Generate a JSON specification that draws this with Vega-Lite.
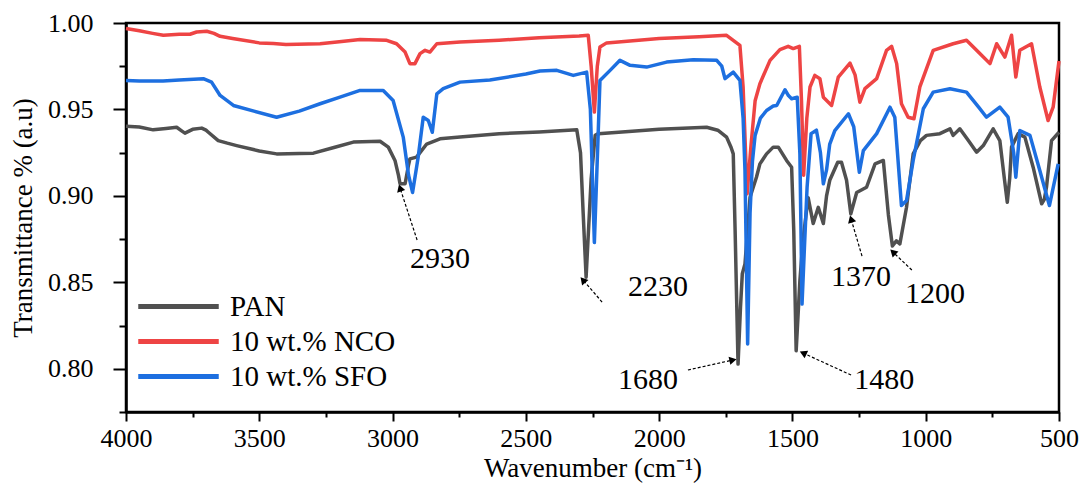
{
  "$schema": "https://vega.github.io/schema/vega-lite/v6.json",
  "autosize": {"type": "none"},
  "width": 933,
  "height": 389,
  "padding": {"left": 126, "top": 23, "right": 25, "bottom": 74},
  "background": "white",
  "config": {
    "font": "Liberation Serif, Times New Roman, serif",
    "view": {"stroke": "black", "strokeWidth": 2.5},
    "axis": {"domainColor": "black", "domainWidth": 2.5, "tickColor": "black", "tickWidth": 2, "labelColor": "black", "titleColor": "black", "labelFont": "Liberation Serif, Times New Roman, serif", "titleFont": "Liberation Serif, Times New Roman, serif", "titleFontWeight": "normal", "grid": false, "labelFontSize": 26, "titleFontSize": 27},
    "legend": {"labelFont": "Liberation Serif, Times New Roman, serif"},
    "text": {"font": "Liberation Serif, Times New Roman, serif"}
  },
  "datasets": {
    "spectra": [
      {"s":"PAN","w":4000,"t":0.9403},{"s":"PAN","w":3950,"t":0.9398},{"s":"PAN","w":3898,"t":0.9382},{"s":"PAN","w":3850,"t":0.939},{"s":"PAN","w":3810,"t":0.9397},{"s":"PAN","w":3790,"t":0.9375},{"s":"PAN","w":3779,"t":0.9363},{"s":"PAN","w":3750,"t":0.9385},{"s":"PAN","w":3716,"t":0.9392},{"s":"PAN","w":3700,"t":0.938},{"s":"PAN","w":3691,"t":0.9368},{"s":"PAN","w":3654,"t":0.932},{"s":"PAN","w":3620,"t":0.9305},{"s":"PAN","w":3585,"t":0.9291},{"s":"PAN","w":3500,"t":0.926},{"s":"PAN","w":3435,"t":0.9243},{"s":"PAN","w":3350,"t":0.9245},{"s":"PAN","w":3297,"t":0.9247},{"s":"PAN","w":3220,"t":0.928},{"s":"PAN","w":3147,"t":0.9311},{"s":"PAN","w":3047,"t":0.9316},{"s":"PAN","w":3016,"t":0.9282},{"s":"PAN","w":2991,"t":0.9205},{"s":"PAN","w":2978,"t":0.912},{"s":"PAN","w":2972,"t":0.907},{"s":"PAN","w":2953,"t":0.907},{"s":"PAN","w":2940,"t":0.918},{"s":"PAN","w":2935,"t":0.9214},{"s":"PAN","w":2910,"t":0.9224},{"s":"PAN","w":2872,"t":0.93},{"s":"PAN","w":2822,"t":0.933},{"s":"PAN","w":2747,"t":0.934},{"s":"PAN","w":2600,"t":0.936},{"s":"PAN","w":2450,"t":0.937},{"s":"PAN","w":2309,"t":0.9382},{"s":"PAN","w":2295,"t":0.925},{"s":"PAN","w":2285,"t":0.89},{"s":"PAN","w":2274,"t":0.853},{"s":"PAN","w":2265,"t":0.88},{"s":"PAN","w":2255,"t":0.91},{"s":"PAN","w":2240,"t":0.935},{"s":"PAN","w":2228,"t":0.936},{"s":"PAN","w":2000,"t":0.9385},{"s":"PAN","w":1822,"t":0.9397},{"s":"PAN","w":1780,"t":0.938},{"s":"PAN","w":1747,"t":0.934},{"s":"PAN","w":1730,"t":0.928},{"s":"PAN","w":1722,"t":0.9243},{"s":"PAN","w":1715,"t":0.88},{"s":"PAN","w":1704,"t":0.8027},{"s":"PAN","w":1695,"t":0.835},{"s":"PAN","w":1688,"t":0.855},{"s":"PAN","w":1678,"t":0.8606},{"s":"PAN","w":1659,"t":0.8992},{"s":"PAN","w":1635,"t":0.9108},{"s":"PAN","w":1622,"t":0.9185},{"s":"PAN","w":1597,"t":0.9243},{"s":"PAN","w":1572,"t":0.9282},{"s":"PAN","w":1553,"t":0.9282},{"s":"PAN","w":1522,"t":0.9205},{"s":"PAN","w":1503,"t":0.9166},{"s":"PAN","w":1495,"t":0.88},{"s":"PAN","w":1486,"t":0.8104},{"s":"PAN","w":1472,"t":0.851},{"s":"PAN","w":1460,"t":0.875},{"s":"PAN","w":1441,"t":0.899},{"s":"PAN","w":1422,"t":0.884},{"s":"PAN","w":1403,"t":0.8934},{"s":"PAN","w":1384,"t":0.884},{"s":"PAN","w":1372,"t":0.9},{"s":"PAN","w":1360,"t":0.909},{"s":"PAN","w":1330,"t":0.9195},{"s":"PAN","w":1316,"t":0.9195},{"s":"PAN","w":1297,"t":0.909},{"s":"PAN","w":1281,"t":0.8896},{"s":"PAN","w":1259,"t":0.902},{"s":"PAN","w":1222,"t":0.905},{"s":"PAN","w":1190,"t":0.9185},{"s":"PAN","w":1159,"t":0.9205},{"s":"PAN","w":1140,"t":0.889},{"s":"PAN","w":1125,"t":0.871},{"s":"PAN","w":1110,"t":0.874},{"s":"PAN","w":1097,"t":0.8722},{"s":"PAN","w":1072,"t":0.8934},{"s":"PAN","w":1047,"t":0.9243},{"s":"PAN","w":1020,"t":0.932},{"s":"PAN","w":997,"t":0.935},{"s":"PAN","w":947,"t":0.936},{"s":"PAN","w":909,"t":0.9388},{"s":"PAN","w":897,"t":0.935},{"s":"PAN","w":872,"t":0.9388},{"s":"PAN","w":840,"t":0.932},{"s":"PAN","w":809,"t":0.9253},{"s":"PAN","w":784,"t":0.9291},{"s":"PAN","w":747,"t":0.9388},{"s":"PAN","w":722,"t":0.932},{"s":"PAN","w":705,"t":0.91},{"s":"PAN","w":694,"t":0.8963},{"s":"PAN","w":685,"t":0.91},{"s":"PAN","w":678,"t":0.9282},{"s":"PAN","w":653,"t":0.936},{"s":"PAN","w":628,"t":0.934},{"s":"PAN","w":597,"t":0.9166},{"s":"PAN","w":565,"t":0.8954},{"s":"PAN","w":555,"t":0.898},{"s":"PAN","w":547,"t":0.905},{"s":"PAN","w":528,"t":0.932},{"s":"PAN","w":500,"t":0.9368},
      {"s":"10 wt.% NCO","w":4000,"t":0.9968},{"s":"10 wt.% NCO","w":3950,"t":0.9955},{"s":"10 wt.% NCO","w":3900,"t":0.994},{"s":"10 wt.% NCO","w":3860,"t":0.9929},{"s":"10 wt.% NCO","w":3800,"t":0.9935},{"s":"10 wt.% NCO","w":3760,"t":0.9935},{"s":"10 wt.% NCO","w":3735,"t":0.9948},{"s":"10 wt.% NCO","w":3697,"t":0.9952},{"s":"10 wt.% NCO","w":3670,"t":0.994},{"s":"10 wt.% NCO","w":3647,"t":0.9923},{"s":"10 wt.% NCO","w":3600,"t":0.991},{"s":"10 wt.% NCO","w":3500,"t":0.9885},{"s":"10 wt.% NCO","w":3447,"t":0.9881},{"s":"10 wt.% NCO","w":3400,"t":0.9875},{"s":"10 wt.% NCO","w":3272,"t":0.988},{"s":"10 wt.% NCO","w":3200,"t":0.9892},{"s":"10 wt.% NCO","w":3122,"t":0.9904},{"s":"10 wt.% NCO","w":3022,"t":0.99},{"s":"10 wt.% NCO","w":2985,"t":0.988},{"s":"10 wt.% NCO","w":2953,"t":0.9832},{"s":"10 wt.% NCO","w":2935,"t":0.9765},{"s":"10 wt.% NCO","w":2916,"t":0.9765},{"s":"10 wt.% NCO","w":2897,"t":0.9823},{"s":"10 wt.% NCO","w":2878,"t":0.9842},{"s":"10 wt.% NCO","w":2860,"t":0.9832},{"s":"10 wt.% NCO","w":2834,"t":0.988},{"s":"10 wt.% NCO","w":2747,"t":0.989},{"s":"10 wt.% NCO","w":2600,"t":0.99},{"s":"10 wt.% NCO","w":2450,"t":0.9915},{"s":"10 wt.% NCO","w":2300,"t":0.9925},{"s":"10 wt.% NCO","w":2266,"t":0.9929},{"s":"10 wt.% NCO","w":2255,"t":0.975},{"s":"10 wt.% NCO","w":2243,"t":0.9485},{"s":"10 wt.% NCO","w":2232,"t":0.975},{"s":"10 wt.% NCO","w":2222,"t":0.9861},{"s":"10 wt.% NCO","w":2197,"t":0.9885},{"s":"10 wt.% NCO","w":2000,"t":0.991},{"s":"10 wt.% NCO","w":1850,"t":0.992},{"s":"10 wt.% NCO","w":1747,"t":0.9929},{"s":"10 wt.% NCO","w":1722,"t":0.99},{"s":"10 wt.% NCO","w":1697,"t":0.9871},{"s":"10 wt.% NCO","w":1685,"t":0.963},{"s":"10 wt.% NCO","w":1670,"t":0.9012},{"s":"10 wt.% NCO","w":1655,"t":0.93},{"s":"10 wt.% NCO","w":1640,"t":0.955},{"s":"10 wt.% NCO","w":1622,"t":0.9649},{"s":"10 wt.% NCO","w":1584,"t":0.9784},{"s":"10 wt.% NCO","w":1547,"t":0.9846},{"s":"10 wt.% NCO","w":1516,"t":0.9865},{"s":"10 wt.% NCO","w":1497,"t":0.9852},{"s":"10 wt.% NCO","w":1474,"t":0.9865},{"s":"10 wt.% NCO","w":1466,"t":0.955},{"s":"10 wt.% NCO","w":1458,"t":0.912},{"s":"10 wt.% NCO","w":1446,"t":0.945},{"s":"10 wt.% NCO","w":1434,"t":0.963},{"s":"10 wt.% NCO","w":1416,"t":0.9697},{"s":"10 wt.% NCO","w":1397,"t":0.9678},{"s":"10 wt.% NCO","w":1384,"t":0.9571},{"s":"10 wt.% NCO","w":1353,"t":0.9523},{"s":"10 wt.% NCO","w":1328,"t":0.9687},{"s":"10 wt.% NCO","w":1284,"t":0.9768},{"s":"10 wt.% NCO","w":1265,"t":0.97},{"s":"10 wt.% NCO","w":1247,"t":0.9542},{"s":"10 wt.% NCO","w":1228,"t":0.962},{"s":"10 wt.% NCO","w":1184,"t":0.9678},{"s":"10 wt.% NCO","w":1147,"t":0.9842},{"s":"10 wt.% NCO","w":1128,"t":0.9865},{"s":"10 wt.% NCO","w":1109,"t":0.9765},{"s":"10 wt.% NCO","w":1091,"t":0.9533},{"s":"10 wt.% NCO","w":1066,"t":0.9455},{"s":"10 wt.% NCO","w":1044,"t":0.9446},{"s":"10 wt.% NCO","w":1022,"t":0.963},{"s":"10 wt.% NCO","w":972,"t":0.9842},{"s":"10 wt.% NCO","w":897,"t":0.988},{"s":"10 wt.% NCO","w":847,"t":0.99},{"s":"10 wt.% NCO","w":797,"t":0.9823},{"s":"10 wt.% NCO","w":759,"t":0.9765},{"s":"10 wt.% NCO","w":734,"t":0.988},{"s":"10 wt.% NCO","w":703,"t":0.9803},{"s":"10 wt.% NCO","w":678,"t":0.9929},{"s":"10 wt.% NCO","w":662,"t":0.9687},{"s":"10 wt.% NCO","w":647,"t":0.9842},{"s":"10 wt.% NCO","w":603,"t":0.988},{"s":"10 wt.% NCO","w":572,"t":0.963},{"s":"10 wt.% NCO","w":541,"t":0.9436},{"s":"10 wt.% NCO","w":522,"t":0.9513},{"s":"10 wt.% NCO","w":500,"t":0.978},
      {"s":"10 wt.% SFO","w":4000,"t":0.9668},{"s":"10 wt.% SFO","w":3950,"t":0.9665},{"s":"10 wt.% SFO","w":3861,"t":0.9664},{"s":"10 wt.% SFO","w":3800,"t":0.967},{"s":"10 wt.% SFO","w":3710,"t":0.9678},{"s":"10 wt.% SFO","w":3679,"t":0.9658},{"s":"10 wt.% SFO","w":3647,"t":0.9581},{"s":"10 wt.% SFO","w":3597,"t":0.9523},{"s":"10 wt.% SFO","w":3520,"t":0.949},{"s":"10 wt.% SFO","w":3435,"t":0.9455},{"s":"10 wt.% SFO","w":3350,"t":0.949},{"s":"10 wt.% SFO","w":3272,"t":0.9533},{"s":"10 wt.% SFO","w":3200,"t":0.957},{"s":"10 wt.% SFO","w":3122,"t":0.961},{"s":"10 wt.% SFO","w":3035,"t":0.961},{"s":"10 wt.% SFO","w":2998,"t":0.9552},{"s":"10 wt.% SFO","w":2960,"t":0.934},{"s":"10 wt.% SFO","w":2940,"t":0.912},{"s":"10 wt.% SFO","w":2925,"t":0.902},{"s":"10 wt.% SFO","w":2904,"t":0.9224},{"s":"10 wt.% SFO","w":2885,"t":0.9455},{"s":"10 wt.% SFO","w":2866,"t":0.9436},{"s":"10 wt.% SFO","w":2851,"t":0.9368},{"s":"10 wt.% SFO","w":2834,"t":0.959},{"s":"10 wt.% SFO","w":2810,"t":0.962},{"s":"10 wt.% SFO","w":2747,"t":0.9658},{"s":"10 wt.% SFO","w":2635,"t":0.967},{"s":"10 wt.% SFO","w":2500,"t":0.9705},{"s":"10 wt.% SFO","w":2447,"t":0.9722},{"s":"10 wt.% SFO","w":2384,"t":0.9726},{"s":"10 wt.% SFO","w":2322,"t":0.9697},{"s":"10 wt.% SFO","w":2272,"t":0.9716},{"s":"10 wt.% SFO","w":2258,"t":0.95},{"s":"10 wt.% SFO","w":2243,"t":0.873},{"s":"10 wt.% SFO","w":2230,"t":0.93},{"s":"10 wt.% SFO","w":2222,"t":0.9668},{"s":"10 wt.% SFO","w":2184,"t":0.9726},{"s":"10 wt.% SFO","w":2147,"t":0.9784},{"s":"10 wt.% SFO","w":2109,"t":0.9755},{"s":"10 wt.% SFO","w":2047,"t":0.9745},{"s":"10 wt.% SFO","w":1972,"t":0.9774},{"s":"10 wt.% SFO","w":1872,"t":0.9788},{"s":"10 wt.% SFO","w":1784,"t":0.9784},{"s":"10 wt.% SFO","w":1765,"t":0.975},{"s":"10 wt.% SFO","w":1753,"t":0.9678},{"s":"10 wt.% SFO","w":1722,"t":0.9716},{"s":"10 wt.% SFO","w":1697,"t":0.9668},{"s":"10 wt.% SFO","w":1685,"t":0.945},{"s":"10 wt.% SFO","w":1678,"t":0.9147},{"s":"10 wt.% SFO","w":1668,"t":0.8143},{"s":"10 wt.% SFO","w":1659,"t":0.89},{"s":"10 wt.% SFO","w":1650,"t":0.92},{"s":"10 wt.% SFO","w":1640,"t":0.935},{"s":"10 wt.% SFO","w":1620,"t":0.945},{"s":"10 wt.% SFO","w":1597,"t":0.9494},{"s":"10 wt.% SFO","w":1572,"t":0.952},{"s":"10 wt.% SFO","w":1559,"t":0.9523},{"s":"10 wt.% SFO","w":1528,"t":0.9614},{"s":"10 wt.% SFO","w":1515,"t":0.958},{"s":"10 wt.% SFO","w":1503,"t":0.9562},{"s":"10 wt.% SFO","w":1482,"t":0.9571},{"s":"10 wt.% SFO","w":1472,"t":0.9243},{"s":"10 wt.% SFO","w":1464,"t":0.8374},{"s":"10 wt.% SFO","w":1455,"t":0.87},{"s":"10 wt.% SFO","w":1445,"t":0.905},{"s":"10 wt.% SFO","w":1430,"t":0.936},{"s":"10 wt.% SFO","w":1410,"t":0.938},{"s":"10 wt.% SFO","w":1395,"t":0.925},{"s":"10 wt.% SFO","w":1384,"t":0.907},{"s":"10 wt.% SFO","w":1372,"t":0.915},{"s":"10 wt.% SFO","w":1360,"t":0.93},{"s":"10 wt.% SFO","w":1341,"t":0.9378},{"s":"10 wt.% SFO","w":1290,"t":0.9475},{"s":"10 wt.% SFO","w":1270,"t":0.94},{"s":"10 wt.% SFO","w":1249,"t":0.9137},{"s":"10 wt.% SFO","w":1234,"t":0.9262},{"s":"10 wt.% SFO","w":1184,"t":0.936},{"s":"10 wt.% SFO","w":1134,"t":0.9513},{"s":"10 wt.% SFO","w":1116,"t":0.9455},{"s":"10 wt.% SFO","w":1091,"t":0.8944},{"s":"10 wt.% SFO","w":1072,"t":0.8973},{"s":"10 wt.% SFO","w":1047,"t":0.9205},{"s":"10 wt.% SFO","w":1009,"t":0.9504},{"s":"10 wt.% SFO","w":972,"t":0.96},{"s":"10 wt.% SFO","w":909,"t":0.962},{"s":"10 wt.% SFO","w":847,"t":0.96},{"s":"10 wt.% SFO","w":800,"t":0.951},{"s":"10 wt.% SFO","w":772,"t":0.9455},{"s":"10 wt.% SFO","w":722,"t":0.9513},{"s":"10 wt.% SFO","w":691,"t":0.9455},{"s":"10 wt.% SFO","w":670,"t":0.925},{"s":"10 wt.% SFO","w":662,"t":0.9108},{"s":"10 wt.% SFO","w":647,"t":0.9378},{"s":"10 wt.% SFO","w":609,"t":0.935},{"s":"10 wt.% SFO","w":572,"t":0.9147},{"s":"10 wt.% SFO","w":536,"t":0.8944},{"s":"10 wt.% SFO","w":503,"t":0.9185}
    ],
    "notes": [
      {"label":"2930","tw":2972,"tv":0.9046,"aw":2908,"av":0.8745,"lw":2822,"lv":0.8635},
      {"label":"2230","tw":2286,"tv":0.8514,"aw":2214,"av":0.8386,"lw":2004,"lv":0.8473},
      {"label":"1680","tw":1723,"tv":0.8051,"aw":1892,"av":0.7993,"lw":2042,"lv":0.7935},
      {"label":"1480","tw":1460,"tv":0.8091,"aw":1280,"av":0.7964,"lw":1156,"lv":0.7935},
      {"label":"1370","tw":1280,"tv":0.8866,"aw":1239,"av":0.8652,"lw":1243,"lv":0.853},
      {"label":"1200","tw":1123,"tv":0.8675,"aw":1052,"av":0.8571,"lw":965,"lv":0.8433}
    ]
  },
  "layer": [
    {
      "data": {"name": "spectra"},
      "mark": {"type": "line", "strokeWidth": 3.5, "strokeJoin": "round"},
      "encoding": {
        "x": {"field": "w", "type": "quantitative", "title": "Wavenumber (cm⁻¹)",
          "scale": {"domain": [500, 4000], "reverse": true, "nice": false, "zero": false},
          "axis": {"values": [4000, 3750, 3500, 3250, 3000, 2750, 2500, 2250, 2000, 1750, 1500, 1250, 1000, 750, 500], "format": "d", "labelExpr": "datum.value % 500 === 0 ? datum.label : ''", "tickSize": {"condition": {"test": "datum.value % 500 === 0", "value": 9}, "value": 5}, "labelPadding": 4, "titlePadding": 4, "labelFlush": false, "labelOverlap": false}},
        "y": {"field": "t", "type": "quantitative", "title": "Transmittance % (a.u)",
          "scale": {"domain": [0.775, 1.0], "nice": false, "zero": false},
          "axis": {"values": [0.775, 0.8, 0.825, 0.85, 0.875, 0.9, 0.925, 0.95, 0.975, 1.0], "format": ".2f", "labelExpr": "round(datum.value * 1000) % 50 === 0 ? datum.label : ''", "tickSize": {"condition": {"test": "round(datum.value * 1000) % 50 === 0", "value": 13}, "value": 7}, "labelPadding": 20, "titlePadding": 10, "labelFlush": false, "labelOverlap": false}},
        "color": {"field": "s", "type": "nominal", "sort": null,
          "scale": {"domain": ["PAN", "10 wt.% NCO", "10 wt.% SFO"], "range": ["#505050", "#EE4444", "#1D6FE0"]},
          "legend": {"orient": "none", "legendX": 0, "legendY": 269, "title": null, "padding": 0, "symbolType": "M-3.5,0H3.5", "symbolSize": 529, "symbolStrokeWidth": 5, "symbolOffset": 38, "labelOffset": 37, "labelFontSize": 29, "labelColor": "black", "labelLimit": 0, "rowPadding": 5}}
      }
    },
    {
      "data": {"name": "notes"},
      "mark": {"type": "rule", "color": "black", "strokeWidth": 1.2, "strokeDash": [3, 2]},
      "encoding": {
        "x": {"field": "aw", "type": "quantitative", "title": "Wavenumber (cm⁻¹)"},
        "y": {"field": "av", "type": "quantitative", "title": "Transmittance % (a.u)"},
        "x2": {"field": "tw"},
        "y2": {"field": "tv"}
      }
    },
    {
      "data": {"name": "notes"},
      "mark": {"type": "point", "shape": "triangle-up", "filled": true, "color": "black", "opacity": 1, "size": 70},
      "encoding": {
        "x": {"field": "tw", "type": "quantitative", "title": "Wavenumber (cm⁻¹)"},
        "y": {"field": "tv", "type": "quantitative", "title": "Transmittance % (a.u)"},
        "angle": {"field": "tw", "type": "quantitative", "legend": null,
          "scale": {"type": "threshold", "domain": [1200, 1370, 1600, 2000, 2600], "range": [313.5, 343, 295, 77.5, 319, 342]}}
      }
    },
    {
      "data": {"name": "notes"},
      "mark": {"type": "text", "fontSize": 30, "color": "black", "align": "center", "baseline": "middle"},
      "encoding": {
        "x": {"field": "lw", "type": "quantitative", "title": "Wavenumber (cm⁻¹)"},
        "y": {"field": "lv", "type": "quantitative", "title": "Transmittance % (a.u)"},
        "text": {"field": "label", "type": "nominal"}
      }
    }
  ]
}
